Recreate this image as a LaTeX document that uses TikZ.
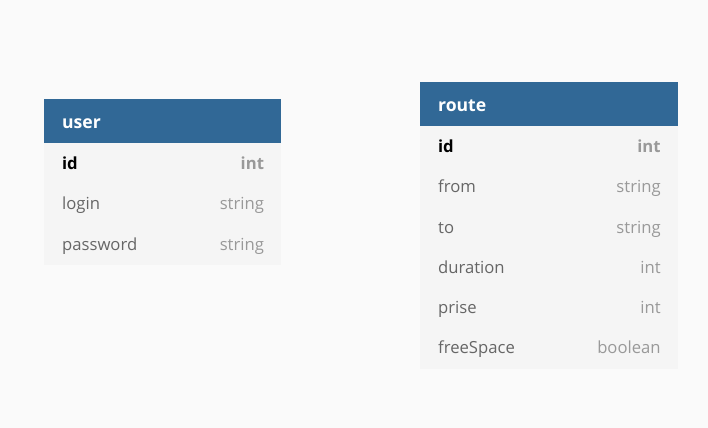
\documentclass[tikz,border=0pt]{standalone}
\usepackage{fontspec}
\setmainfont{Open Sans}
\usetikzlibrary{positioning}
\usepackage{xcolor}
\definecolor{TblBlue}{RGB}{49,104,150}
\definecolor{TblRow}{RGB}{245,245,245}
\definecolor{TblBack}{RGB}{250,250,250}
\definecolor{TblName}{RGB}{102,102,102}
\definecolor{TblType}{RGB}{153,153,153}

\begin{document}
\begin{tikzpicture}[
node distance=0pt,
head/.style={rectangle,fill=TblBlue,draw=TblBlue,line width=0.2pt,text=white,
font=\fontsize{13.2}{15}\selectfont\bfseries,text height=11.6pt,text depth=0.6pt,
inner xsep=13.5pt,inner ysep=0pt,minimum height=33pt,align=left},
field/.style={rectangle,fill=TblRow,draw=TblRow,line width=0.2pt,text=TblName,
font=\fontsize{12.5}{14}\selectfont,text height=10.5pt,text depth=1.3pt,
inner xsep=13.5pt,inner ysep=0pt,minimum height=30pt,align=left},
key/.style={field,text=black,font=\fontsize{12.5}{14}\selectfont\bfseries},
type/.style={text=TblType,font=\fontsize{12.5}{14}\selectfont,text height=10.5pt,text depth=1.3pt,
inner sep=0pt,anchor=east},
keytype/.style={type,font=\fontsize{12.5}{14}\selectfont\bfseries}
]
\fill[TblBack] (0,0) rectangle (531pt,-321pt);
\useasboundingbox (0,0) rectangle (531pt,-321pt);

% user table
\node[head,text width=150pt,anchor=north west] (user) at (33pt,-74.25pt) {user};
\node[key,text width=150pt,below=of user] (uid) {id};
\node[field,text width=150pt,below=of uid] (ulogin) {login};
\node[field,text width=150pt,below=of ulogin] (upass) {password};
\node[keytype] at ([xshift=-12pt]uid.east) {int};
\node[type] at ([xshift=-12pt]ulogin.east) {string};
\node[type] at ([xshift=-12pt]upass.east) {string};

% route table
\node[head,text width=165.5pt,anchor=north west] (route) at (315pt,-61.5pt) {route};
\node[key,text width=165.5pt,below=of route] (rid) {id};
\node[field,text width=165.5pt,below=of rid] (rfrom) {from};
\node[field,text width=165.5pt,below=of rfrom] (rto) {to};
\node[field,text width=165.5pt,below=of rto] (rdur) {duration};
\node[field,text width=165.5pt,below=of rdur] (rprise) {prise};
\node[field,text width=165.5pt,below=of rprise] (rfree) {freeSpace};
\node[keytype] at ([xshift=-12pt]rid.east) {int};
\node[type] at ([xshift=-12pt]rfrom.east) {string};
\node[type] at ([xshift=-12pt]rto.east) {string};
\node[type] at ([xshift=-12pt]rdur.east) {int};
\node[type] at ([xshift=-12pt]rprise.east) {int};
\node[type] at ([xshift=-12pt]rfree.east) {boolean};
\end{tikzpicture}
\end{document}
